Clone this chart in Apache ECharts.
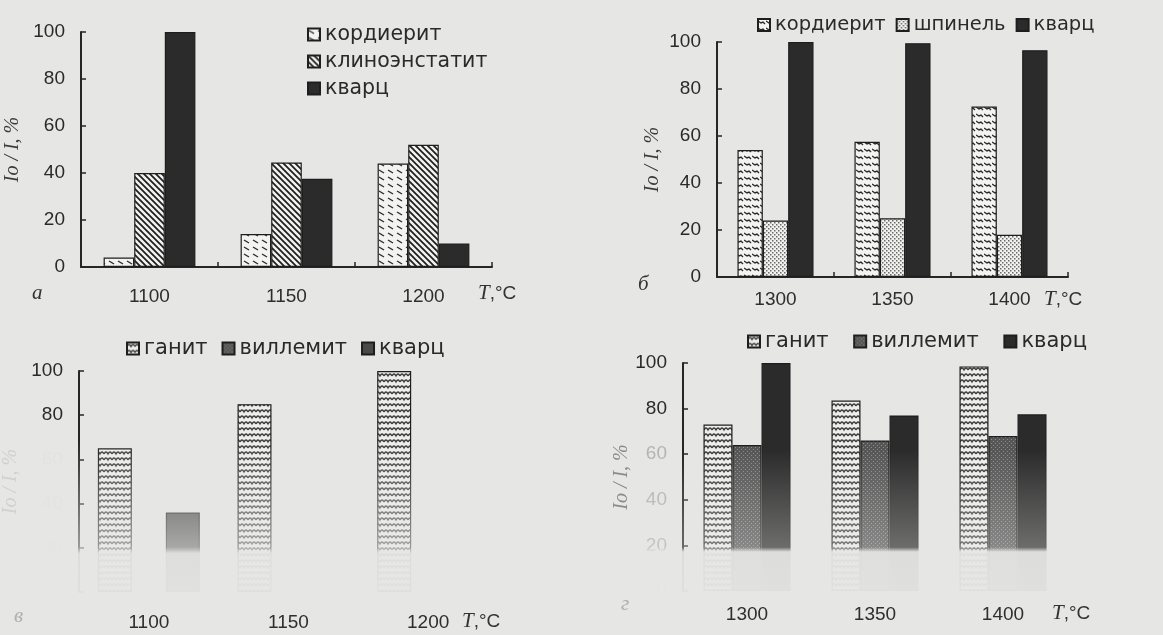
<!DOCTYPE html>
<html>
<head>
<meta charset="utf-8">
<script src="https://cdn.jsdelivr.net/npm/echarts@6/dist/echarts.min.js"></script>
<style>
  html, body { margin: 0; padding: 0; background: #e6e6e4; }
  #chart { width: 1163px; height: 635px; }
</style>
</head>
<body>
<div id="chart"></div>
<script>
// panel a
const catsA = ['1100', '1150', '1200'];
const kordA = [4, 14, 44];
const klinoA = [40, 44.5, 52];
const kvarcA = [100, 37.5, 10];

// panel б
const catsB = ['1300', '1350', '1400'];
const kordB = [54, 57.5, 72.5];
const spinelB = [24, 25, 18];
const kvarcB = [100, 99.5, 96.5];

// panel в (lower part of the scan is faded, missing bars left empty)
const catsC = ['1100', '1150', '1200'];
const ganitC = [65, 85, 100];
const villC = [null, null, null];
const kvarcC = [36, null, null];

// panel г
const catsD = ['1300', '1350', '1400'];
const ganitD = [73, 83.5, 98.5];
const villD = [64, 66, 68];
const kvarcD = [100, 77, 77.5];

function tile (w, h, bg, draw) {
  const c = document.createElement('canvas');
  c.width = w;
  c.height = h;
  const g = c.getContext('2d');
  g.fillStyle = bg;
  g.fillRect(0, 0, w, h);
  draw(g);
  return { image: c, repeat: 'repeat' };
}

const patKord = tile(9, 7, '#f3f3f1', g => {
  g.strokeStyle = '#2a2a2a'; g.lineWidth = 1.4;
  g.beginPath(); g.moveTo(1, 2); g.lineTo(6, 5); g.stroke();
});
const patKlino = tile(6, 6, '#f1f1ef', g => {
  g.strokeStyle = '#1e1e1e'; g.lineWidth = 1.7;
  g.beginPath();
  g.moveTo(-1, -1); g.lineTo(7, 7);
  g.moveTo(-1, 5); g.lineTo(1, 7);
  g.moveTo(5, -1); g.lineTo(7, 1);
  g.stroke();
});
const patKordB = tile(8, 7, '#f3f3f1', g => {
  g.strokeStyle = '#2a2a2a'; g.lineWidth = 1.4;
  g.beginPath(); g.moveTo(0, 2); g.lineTo(3, 4); g.lineTo(5, 3); g.lineTo(7, 5); g.stroke();
});
const patSpinel = tile(4, 4, '#f1f1ef', g => {
  g.fillStyle = '#6a6a6a';
  g.fillRect(0, 0, 1.5, 1.5);
  g.fillRect(2, 2, 1.5, 1.5);
});
const patGanit = tile(8, 6, '#eeeeec', g => {
  g.strokeStyle = '#3a3a3a'; g.lineWidth = 1.3;
  g.beginPath(); g.moveTo(0, 4); g.quadraticCurveTo(2, 0, 4, 4); g.quadraticCurveTo(6, 0, 8, 4); g.stroke();
});
const patVill = tile(4, 4, '#565656', g => {
  g.fillStyle = '#8c8c8c';
  g.fillRect(1, 1, 1, 1);
  g.fillRect(3, 3, 1, 1);
});
const kvarcColor = '#2b2b2b';
const bg = '#e6e6e4';

const font = 'Liberation Sans, Arial, sans-serif';
const legendFont = 'DejaVu Sans, sans-serif';
const serif = 'Liberation Serif, Times New Roman, serif';
const dark = '#262626';

const grids = [
  { left: 81, top: 32, width: 411, height: 235 },
  { left: 717, top: 42, width: 351, height: 235 },
  { left: 78, top: 371, width: 420, height: 221 },
  { left: 683, top: 363, width: 384, height: 228 }
];

function xAxis (idx, cats, margin, showLine) {
  return {
    type: 'category',
    gridIndex: idx,
    data: cats,
    axisLine: { show: showLine, lineStyle: { color: dark, width: 2 } },
    axisTick: { show: showLine, inside: true, length: 5, lineStyle: { color: dark, width: 1.5 } },
    axisLabel: { margin: margin, fontSize: 19, fontFamily: font, color: '#2e2e2e' }
  };
}

function yAxis (idx, nameGap, labelColor, nameColor) {
  return {
    type: 'value',
    gridIndex: idx,
    min: 0,
    max: 100,
    interval: 20,
    splitLine: { show: false },
    axisLine: { show: true, lineStyle: { color: dark, width: 2 } },
    axisTick: { show: true, inside: true, length: 5, lineStyle: { color: dark, width: 1.5 } },
    axisLabel: { margin: 16, fontSize: 19, fontFamily: font, color: labelColor },
    name: 'Io / I, %',
    nameLocation: 'middle',
    nameRotate: 90,
    nameGap: nameGap,
    nameTextStyle: { fontFamily: serif, fontStyle: 'italic', fontSize: 20, color: nameColor }
  };
}

function bars (name, data, idx, color, gap) {
  return {
    type: 'bar',
    name: name,
    data: data,
    xAxisIndex: idx,
    yAxisIndex: idx,
    barGap: '0%',
    barCategoryGap: gap,
    itemStyle: { color: color, borderColor: '#1e1e1e', borderWidth: 1.2 },
    emphasis: { disabled: true }
  };
}

function legend (items, left, top, orient, gap, size) {
  return {
    orient: orient, left: left, top: top, itemGap: gap,
    itemWidth: 12, itemHeight: 12, icon: 'rect', selectedMode: false,
    textStyle: { fontFamily: legendFont, fontSize: size, color: '#2a2a2a' },
    data: items
  };
}

function tLabel (x, y) {
  return {
    type: 'text', left: x, top: y, z: 100,
    style: {
      text: '{i|T},°C', fill: '#333', font: '19px ' + font,
      rich: { i: { fontFamily: serif, fontStyle: 'italic', fontSize: 21, fill: '#333' } }
    }
  };
}

function letter (ch, x, y, color) {
  return {
    type: 'text', left: x, top: y, z: 100,
    style: { text: ch, fill: color, font: 'italic 21px ' + serif }
  };
}

// faded lower part of the scan
function fade (x, y, w, h, stops) {
  return {
    type: 'rect', z: 50, silent: true,
    shape: { x: x, y: y, width: w, height: h },
    style: { fill: new echarts.graphic.LinearGradient(0, 0, 0, 1, stops) }
  };
}

const chart = echarts.init(document.getElementById('chart'));
chart.setOption({
  backgroundColor: bg,
  animation: false,
  grid: grids,
  xAxis: [
    xAxis(0, catsA, 20, true),
    xAxis(1, catsB, 13, true),
    xAxis(2, catsC, 21, false),
    xAxis(3, catsD, 14, false)
  ],
  yAxis: [
    yAxis(0, 58, '#2a2a2a', '#3a3a3a'),
    yAxis(1, 54, '#2a2a2a', '#3a3a3a'),
    yAxis(2, 58, (v) => v >= 80 ? '#2a2a2a' : (v === 60 ? '#c0c0be' : '#e2e2e0'), '#d0d0ce'),
    yAxis(3, 50, (v) => v >= 80 ? '#2a2a2a' : '#b4b4b2', '#8a8a88')
  ],
  legend: [
    legend(['кордиерит', 'клиноэнстатит', 'кварц'], 302, 19, 'vertical', 6, 20.5),
    legend(['кoрдиерит', 'шпинель', 'кварц '], 752, 10, 'horizontal', 10, 19.5),
    legend(['ганит', 'виллемит', 'кварц  '], 121, 333, 'horizontal', 14, 21),
    legend(['ганит ', 'виллемит ', 'кварц   '], 742, 326, 'horizontal', 18, 21)
  ],
  series: [
    bars('кордиерит', kordA, 0, patKord, '33%'),
    bars('клиноэнстатит', klinoA, 0, patKlino, '33%'),
    bars('кварц', kvarcA, 0, kvarcColor, '33%'),
    bars('кoрдиерит', kordB, 1, patKordB, '35%'),
    bars('шпинель', spinelB, 1, patSpinel, '35%'),
    bars('кварц ', kvarcB, 1, kvarcColor, '35%'),
    bars('ганит', ganitC, 2, patGanit, '27%'),
    bars('виллемит', villC, 2, patVill, '27%'),
    bars('кварц  ', kvarcC, 2, '#4a4a4a', '27%'),
    bars('ганит ', ganitD, 3, patGanit, '32%'),
    bars('виллемит ', villD, 3, patVill, '32%'),
    bars('кварц   ', kvarcD, 3, kvarcColor, '32%')
  ],
  graphic: [
    fade(36, 440, 494, 162, [
      { offset: 0, color: 'rgba(230,230,228,0)' },
      { offset: 0.66, color: 'rgba(230,230,228,0.6)' },
      { offset: 0.7, color: 'rgba(230,230,228,0.95)' },
      { offset: 1, color: 'rgba(230,230,228,0.97)' }
    ]),
    fade(645, 450, 430, 152, [
      { offset: 0, color: 'rgba(230,230,228,0)' },
      { offset: 0.64, color: 'rgba(230,230,228,0.35)' },
      { offset: 0.67, color: 'rgba(230,230,228,0.95)' },
      { offset: 1, color: 'rgba(230,230,228,0.97)' }
    ]),
    tLabel(478, 283),
    tLabel(1044, 289),
    tLabel(462, 611),
    tLabel(1052, 603),
    letter('а', 32, 283, '#333'),
    letter('б', 638, 274, '#333'),
    letter('в', 14, 606, '#b0b0ae'),
    letter('г', 621, 594, '#b0b0ae')
  ]
});
</script>
</body>
</html>
